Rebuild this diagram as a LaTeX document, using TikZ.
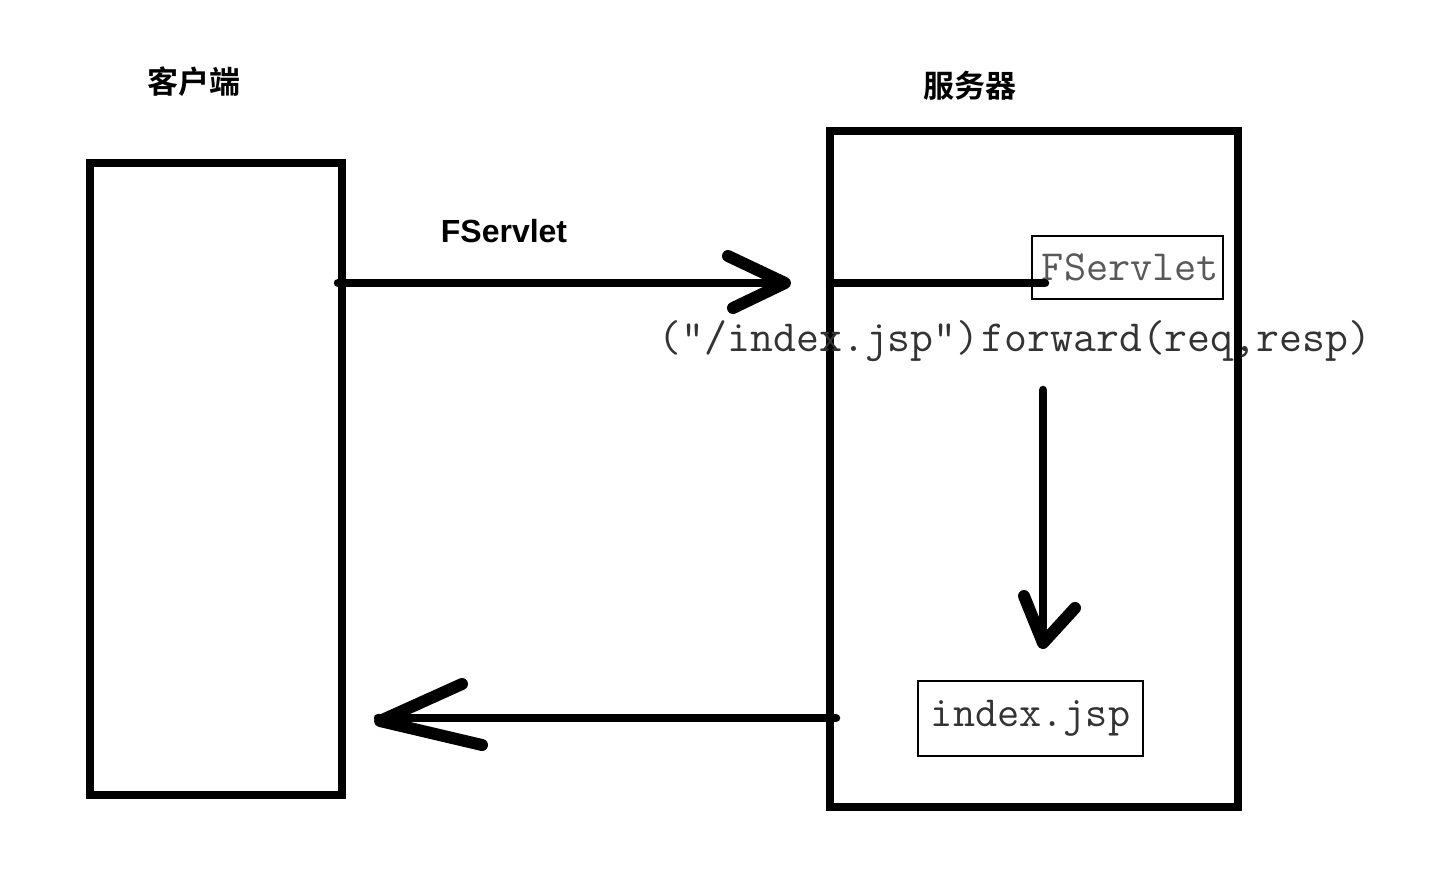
\documentclass[tikz,border=0pt]{standalone}
\usepackage{fontspec}
\setmainfont{Liberation Sans}
\newfontfamily\cjk{Noto Sans CJK SC}[BoldFont={* Bold}]
\usetikzlibrary{calc}
\begin{document}
\begin{tikzpicture}[x=1pt,y=-1pt,
  bigbox/.style={draw=black,line width=8pt},
  smallbox/.style={draw=black,line width=1.6pt,inner sep=0pt},
  conn/.style={line width=8.5pt,line cap=round},
  arm/.style={line width=12pt,line cap=round,line join=round},
  cjklabel/.style={font=\cjk\bfseries\fontsize{31}{34}\selectfont},
  codetext/.style={font=\ttfamily\fontsize{43}{45}\selectfont,text=black!80}]
\useasboundingbox (0,0) rectangle (1443,868);
% boxes
\draw[bigbox] (90,163) rectangle (342,795);
\draw[bigbox] (830,131) rectangle (1238,807);
\node (client) at (90,163) {};
\node (server) at (830,131) {};
% titles
\node[cjklabel] (lc) at (194,82) {客户端};
\node[cjklabel] (ls) at (970,86) {服务器};
\node[font=\bfseries\fontsize{32}{34}\selectfont] (fs) at (504,231) {FServlet};
% inner boxes
\node[smallbox,minimum width=191pt,minimum height=63pt,codetext,text=black!65] (fsbox) at (1127.5,267.5) {\hspace{6pt}\raisebox{-4pt}{FServlet}};
\node[smallbox,minimum width=225pt,minimum height=75pt,codetext] (jsp) at (1030.5,718.5) {index.jsp};
\node[codetext,font=\ttfamily\fontsize{44.5}{46}\selectfont,inner sep=0pt] (fwd) at (1015,341) {("/index.jsp")\hspace{2pt}forward(req,resp)};
% coordinates
\coordinate (a1s) at (338,283);
\coordinate (a1t) at (785,283);
\coordinate (b1s) at (830,283);
\coordinate (b1t) at (1045,283);
\coordinate (a2s) at (1043,390);
\coordinate (a2t) at (1043,643);
\coordinate (a3s) at (836,718);
\coordinate (a3t) at (380,721);
% connectors
\draw[conn] (a1s) -- (a1t);
\draw[arm] ($(a1t)+(-57,-27)$) -- (a1t) -- ($(a1t)+(-52,25)$);
\draw[conn] (b1s) -- (b1t);
\draw[conn] (a2s) -- (a2t);
\draw[arm] ($(a2t)+(-19,-47)$) -- (a2t) -- ($(a2t)+(32,-35)$);
\draw[conn] (a3s) -- (378,718);
\draw[arm] ($(a3t)+(82,-37)$) -- (a3t) -- ($(a3t)+(102,24)$);
\end{tikzpicture}
\end{document}
